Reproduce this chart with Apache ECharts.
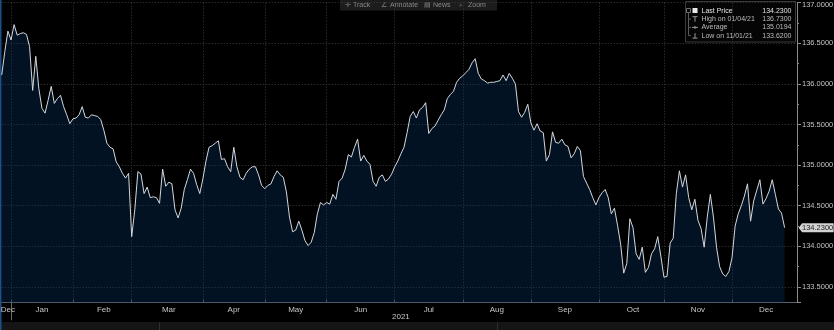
<!DOCTYPE html>
<html>
<head>
<meta charset="utf-8">
<script src="https://cdn.jsdelivr.net/npm/echarts@6/dist/echarts.min.js"></script>
<style>
  html, body { margin: 0; padding: 0; background: #000; }
  #chart { width: 834px; height: 330px; }
</style>
</head>
<body>
<div id="chart"></div>
<script>
// Trading calendar: weekdays from 29 Dec 2020 to 30 Dec 2021, less market holidays
const firstDay = '2020-12-29';
const lastDay = '2021-12-30';
const holidays = ['2021-01-18', '2021-02-15', '2021-04-02', '2021-04-05', '2021-05-31'];
const monthNames = ['Jan', 'Feb', 'Mar', 'Apr', 'May', 'Jun', 'Jul', 'Aug', 'Sep', 'Oct', 'Nov', 'Dec'];

// Daily closing prices, one per trading day starting 29 Dec 2020
const prices = [
  136.11, 136.40, 136.65, 136.54, 136.73, 136.60, 136.62, 136.63, 136.61, 136.46,
  135.92, 136.34, 135.94, 135.70, 135.64, 135.80, 135.97, 135.76, 135.82, 135.86,
  135.72, 135.62, 135.51, 135.57, 135.58, 135.62, 135.72, 135.59, 135.58, 135.62,
  135.61, 135.60, 135.56, 135.43, 135.27, 135.22, 135.20, 135.04, 134.98, 134.90,
  134.84, 134.90, 134.12, 134.45, 134.92, 134.89, 134.65, 134.73, 134.60, 134.61,
  134.60, 134.53, 134.95, 134.74, 134.79, 134.77, 134.45, 134.35, 134.47, 134.70,
  134.82, 134.95, 134.90, 134.76, 134.65, 134.83, 135.05, 135.22, 135.24, 135.27,
  135.30, 135.07, 135.08, 134.98, 134.92, 135.22, 134.98, 134.85, 134.82, 134.90,
  134.95, 134.98, 134.98, 134.88, 134.75, 134.71, 134.75, 134.77, 134.86, 134.93,
  134.88, 134.85, 134.67, 134.36, 134.18, 134.20, 134.31, 134.20, 134.07, 134.01,
  134.05, 134.17, 134.40, 134.54, 134.51, 134.54, 134.52, 134.64, 134.58, 134.80,
  134.84, 134.95, 135.13, 135.10, 135.22, 135.32, 135.05, 135.12, 135.05, 135.01,
  134.80, 134.74, 134.85, 134.88, 134.80, 134.83, 134.89, 134.98, 135.05, 135.14,
  135.22, 135.40, 135.60, 135.66, 135.58, 135.68, 135.71, 135.77, 135.39, 135.45,
  135.48, 135.55, 135.62, 135.68, 135.82, 135.87, 135.91, 136.02, 136.07, 136.10,
  136.14, 136.18, 136.26, 136.31, 136.13, 136.06, 136.04, 136.01, 136.02, 136.02,
  136.03, 136.04, 136.11, 136.04, 136.13, 136.07, 136.00, 135.66, 135.59, 135.65,
  135.75, 135.52, 135.43, 135.51, 135.42, 135.40, 135.05, 135.13, 135.41, 135.28,
  135.27, 135.32, 135.25, 135.23, 135.09, 135.14, 135.23, 135.18, 134.86, 134.78,
  134.70, 134.60, 134.51, 134.60, 134.66, 134.70, 134.60, 134.40, 134.47, 134.26,
  134.03, 133.67, 133.79, 134.34, 134.23, 133.91, 133.84, 133.99, 133.68, 133.74,
  133.91, 133.97, 134.12, 133.88, 133.62, 133.63, 134.04, 134.10, 134.65, 134.93,
  134.73, 134.88, 134.60, 134.45, 134.58, 134.32, 134.22, 133.99, 134.36, 134.64,
  134.36, 133.99, 133.75, 133.66, 133.63, 133.69, 133.86, 134.25, 134.40, 134.50,
  134.62, 134.77, 134.31, 134.56, 134.69, 134.82, 134.52, 134.59, 134.68, 134.82,
  134.64, 134.46, 134.41, 134.23
];

// Period average as published with the series
const statedAverage = 135.0194;

// Toolbar captions: icon glyph, caption, icon x, caption x
const toolbarItems = [
  { icon: '\u271B', text: 'Track', ix: 345, tx: 353 },
  { icon: '\u2220', text: 'Annotate', ix: 381, tx: 390 },
  { icon: '\u25A4', text: 'News', ix: 424, tx: 433 },
  { icon: '\u2315', text: 'Zoom', ix: 459, tx: 468 }
];

const FONT = '"Liberation Sans", Arial, sans-serif';

function buildTradingDays() {
  const out = [];
  const d = new Date(firstDay + 'T00:00:00Z');
  const end = new Date(lastDay + 'T00:00:00Z');
  while (d <= end) {
    const wd = d.getUTCDay();
    const s = d.toISOString().slice(0, 10);
    if (wd !== 0 && wd !== 6 && holidays.indexOf(s) < 0) out.push(s);
    d.setUTCDate(d.getUTCDate() + 1);
  }
  return out;
}
const days = buildTradingDays();

// Month spans: first trading day of each month (tick/grid) and mid-month label slot
const monthStarts = new Set();
const monthLabels = new Map();
const yearSpans = {};
(function () {
  let curKey = null, spanStart = 0;
  const closeSpan = (endIdx) => {
    const m = parseInt(curKey.slice(5, 7), 10) - 1;
    monthLabels.set(Math.round((spanStart + endIdx + 1) / 2), monthNames[m]);
  };
  days.forEach((s, i) => {
    const key = s.slice(0, 7);
    if (key !== curKey) {
      if (curKey !== null) { closeSpan(i - 1); monthStarts.add(i); }
      curKey = key; spanStart = i;
    }
    const y = s.slice(0, 4);
    if (!yearSpans[y]) yearSpans[y] = [i, i];
    yearSpans[y][1] = i;
  });
  closeSpan(days.length - 1);
})();
const yearStart = yearSpans['2021'][0];
const yearLabelIdx = Math.floor((yearSpans['2021'][0] + yearSpans['2021'][1]) / 2) - 1;

// Summary statistics
const lastIdx = prices.length - 1;
const lastVal = prices[lastIdx];
let hiIdx = 0, loIdx = 0;
prices.forEach((v, i) => { if (v > prices[hiIdx]) hiIdx = i; if (v < prices[loIdx]) loIdx = i; });
const mdy = (s) => s.slice(5, 7) + '/' + s.slice(8, 10) + '/' + s.slice(2, 4);
const yMax = 137.0;

const legendRows = [
  { label: 'Last Price', value: lastVal, icon: 'square', color: '#e4e4e4' },
  { label: 'High on ' + mdy(days[hiIdx]), value: prices[hiIdx], icon: 'high', color: '#bdbdbd' },
  { label: 'Average', value: statedAverage, icon: 'avg', color: '#bdbdbd' },
  { label: 'Low on ' + mdy(days[loIdx]), value: prices[loIdx], icon: 'low', color: '#bdbdbd' }
];

// Overlay graphics: left frame edge, toolbar, summary box, bottom strip
const graphics = [];
graphics.push({ type: 'rect', shape: { x: 0, y: 322, width: 834, height: 8 }, style: { fill: '#151515' }, silent: true });
graphics.push({ type: 'line', shape: { x1: 159.5, y1: 322, x2: 159.5, y2: 330 }, style: { stroke: '#2e2e2e', lineWidth: 1 } });
graphics.push({ type: 'line', shape: { x1: 497.5, y1: 322, x2: 497.5, y2: 330 }, style: { stroke: '#2e2e2e', lineWidth: 1 } });
graphics.push({ type: 'line', shape: { x1: 0.75, y1: 0, x2: 0.75, y2: 330 }, style: { stroke: '#1d4f8a', lineWidth: 1.5 } });

graphics.push({ type: 'rect', shape: { x: 340, y: 0, width: 157, height: 10.5 }, style: { fill: '#1c1c1c' }, silent: true });
toolbarItems.forEach((t) => {
  graphics.push({ type: 'text', x: t.ix, y: 5.5, style: { text: t.icon, fill: '#7e7e7e', font: '7px ' + FONT, align: 'left', verticalAlign: 'middle' } });
  graphics.push({ type: 'text', x: t.tx, y: 5.5, style: { text: t.text, fill: '#8a8a8a', font: '7px ' + FONT, align: 'left', verticalAlign: 'middle' } });
});

graphics.push({ type: 'rect', shape: { x: 685.5, y: 1.5, width: 110, height: 40.5 }, style: { fill: '#050505', stroke: '#3a3a3a', lineWidth: 1 } });
graphics.push({ type: 'rect', shape: { x: 686.5, y: 8.5, width: 4, height: 4 }, style: { fill: 'none', stroke: '#6e6e6e', lineWidth: 1 } });
graphics.push({ type: 'line', shape: { x1: 688.5, y1: 12.5, x2: 688.5, y2: 35.6 }, style: { stroke: '#5a5a5a', lineWidth: 1 } });
legendRows.forEach((r, k) => {
  const y = 11 + k * 8.2;
  const ln = (x1, y1, x2, y2, c) => graphics.push({ type: 'line', shape: { x1, y1, x2, y2 }, style: { stroke: c || '#9a9a9a', lineWidth: 1 } });
  if (k > 0) ln(688.5, y, 691, y, '#5a5a5a');
  if (r.icon === 'square') {
    graphics.push({ type: 'rect', shape: { x: 692.5, y: y - 3, width: 5, height: 5 }, style: { fill: '#e8e8e8' } });
  } else if (r.icon === 'high') {
    ln(692.5, y - 2.5, 697.5, y - 2.5); ln(695, y - 2.5, 695, y + 2.5);
  } else if (r.icon === 'avg') {
    ln(692, y, 698, y); ln(695, y - 1.5, 695, y + 1.5);
  } else {
    ln(695, y - 2.5, 695, y + 2.5); ln(692.5, y + 2.5, 697.5, y + 2.5);
  }
  graphics.push({ type: 'text', x: 701.5, y: y, style: { text: r.label, fill: r.color, font: '7px ' + FONT, align: 'left', verticalAlign: 'middle' } });
  graphics.push({ type: 'text', x: 791.5, y: y, style: { text: r.value.toFixed(4), fill: r.color, font: '7px ' + FONT, align: 'right', verticalAlign: 'middle' } });
});

const chart = echarts.init(document.getElementById('chart'), null, { renderer: 'canvas' });
chart.setOption({
  backgroundColor: '#000',
  animation: false,
  textStyle: { fontFamily: FONT },
  grid: { left: 1.72, right: 37, top: 2.7, bottom: 27.6, outerBoundsMode: 'none', containLabel: false },
  xAxis: [
    {
      type: 'category',
      data: days,
      boundaryGap: false,
      axisLine: { show: true, lineStyle: { color: '#5b636c', width: 1 } },
      axisTick: { show: true, inside: true, length: 3, interval: (i) => monthStarts.has(i), lineStyle: { color: '#5b636c' } },
      axisLabel: {
        show: true, interval: (i) => monthLabels.has(i), formatter: (v, i) => monthLabels.get(i) || '',
        color: '#c6c6c6', fontSize: 8, margin: 3, fontFamily: FONT
      },
      splitLine: { show: true, interval: (i) => monthStarts.has(i), lineStyle: { color: '#3d3d3d', width: 1, type: [1, 2] } }
    },
    {
      type: 'category',
      data: days,
      boundaryGap: false,
      position: 'bottom',
      axisLine: { show: false },
      axisTick: { show: true, length: 18, interval: (i) => i === yearStart, lineStyle: { color: '#6a6a6a' } },
      axisLabel: {
        show: true, interval: (i) => i === yearLabelIdx, formatter: (v) => v.slice(0, 4),
        color: '#c6c6c6', fontSize: 8, margin: 10, fontFamily: FONT
      },
      splitLine: { show: false }
    }
  ],
  yAxis: {
    type: 'value',
    position: 'right',
    min: 133.31,
    max: yMax,
    splitNumber: 7,
    scale: true,
    axisLine: { show: true, lineStyle: { color: '#8a8a8a', width: 1 } },
    axisTick: { show: true, inside: false, length: 4, lineStyle: { color: '#8a8a8a' } },
    minorTick: { show: true, splitNumber: 2, length: 2, lineStyle: { color: '#8a8a8a' } },
    axisLabel: {
      show: true, showMinLabel: false, margin: 5,
      formatter: (v) => (v >= yMax ? '{top|' + v.toFixed(4) + '}' : v.toFixed(4)),
      rich: { top: { padding: [5, 0, 0, 0], color: '#c2c2c2', fontSize: 7.5, fontFamily: FONT } },
      color: '#c2c2c2', fontSize: 7.5, fontFamily: FONT
    },
    splitLine: { show: true, lineStyle: { color: '#3d3d3d', width: 1, type: [1, 2] } },
    minorSplitLine: { show: false }
  },
  series: [{
    type: 'line',
    data: prices,
    xAxisIndex: 0,
    showSymbol: false,
    symbol: 'none',
    smooth: false,
    lineStyle: { color: '#d3d8de', width: 1 },
    areaStyle: { color: 'rgba(6, 50, 100, 0.5)', origin: 'start' },
    markPoint: {
      silent: true,
      animation: false,
      symbol: 'path://M0,5L4,0L40,0L40,10L4,10Z',
      symbolSize: [35, 9],
      itemStyle: { color: '#d2d2d2' },
      label: {
        show: true, position: 'inside', offset: [1.5, 0.5],
        formatter: (p) => Number(p.value).toFixed(4),
        color: '#1a1a1a', fontSize: 7.5, fontFamily: FONT
      },
      data: [{ coord: [lastIdx, lastVal], value: lastVal, symbolOffset: [31.5, 0] }]
    }
  }],
  graphic: { elements: graphics }
});
</script>
</body>
</html>
